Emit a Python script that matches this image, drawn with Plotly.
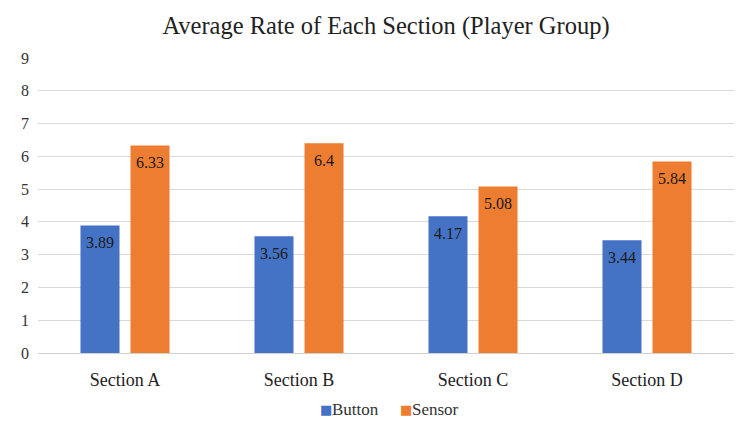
import plotly.graph_objects as go

sections = ["Section A", "Section B", "Section C", "Section D"]
button = [3.89, 3.56, 4.17, 3.44]
sensor = [6.33, 6.4, 5.08, 5.84]

serif = "Liberation Serif"
series = [("Button", button, "#4472C4", -25), ("Sensor", sensor, "#ED7D31", 25)]

fig = go.Figure()
for name, vals, color, _ in series:
    fig.add_trace(go.Bar(
        x=sections, y=vals, name=name, showlegend=False,
        marker=dict(color=color, line=dict(width=0)),
    ))

# value labels sit a little below the top of each bar
for name, vals, color, dx in series:
    for sec, v in zip(sections, vals):
        fig.add_annotation(
            x=sec, y=v, text=f"{v:g}", showarrow=False,
            xshift=dx, yshift=-17, yanchor="middle",
            font=dict(family=serif, size=16, color="#1a1a1a"),
        )

# legend row below the axis: colour swatch followed by the series name
for (name, vals, color, _), lx in zip(series, [0.402, 0.517]):
    fig.add_annotation(
        xref="paper", yref="paper", x=lx, y=-0.193,
        xanchor="left", yanchor="middle", showarrow=False,
        text="■", font=dict(family="DejaVu Sans", size=13, color=color),
    )
    fig.add_annotation(
        xref="paper", yref="paper", x=lx + 0.017, y=-0.193,
        xanchor="left", yanchor="middle", showarrow=False,
        text=name, font=dict(family=serif, size=17, color="#333333"),
    )

fig.update_layout(
    width=736, height=421,
    margin=dict(l=38, r=2, t=58, b=68),
    paper_bgcolor="white", plot_bgcolor="white",
    barmode="group", bargap=0.425, bargroupgap=0.22,
    title=dict(text="Average Rate of Each Section (Player Group)",
               xref="paper", x=0.5, xanchor="center",
               y=0.94, yanchor="middle",
               font=dict(family=serif, size=24.5, color="#222222")),
    font=dict(family=serif, size=15, color="#333333"),
    showlegend=False,
    xaxis=dict(showgrid=False, showline=True, linecolor="#d0d0d0", linewidth=1,
               ticks="", ticklabelstandoff=10,
               tickfont=dict(family=serif, size=18, color="#222222")),
    yaxis=dict(range=[0, 9], dtick=1, showgrid=True, gridcolor="#d9d9d9", gridwidth=1,
               zeroline=False, showline=False, ticks="", ticklabelstandoff=8,
               tickfont=dict(family=serif, size=16, color="#333333")),
)

fig.write_html("out.html")
